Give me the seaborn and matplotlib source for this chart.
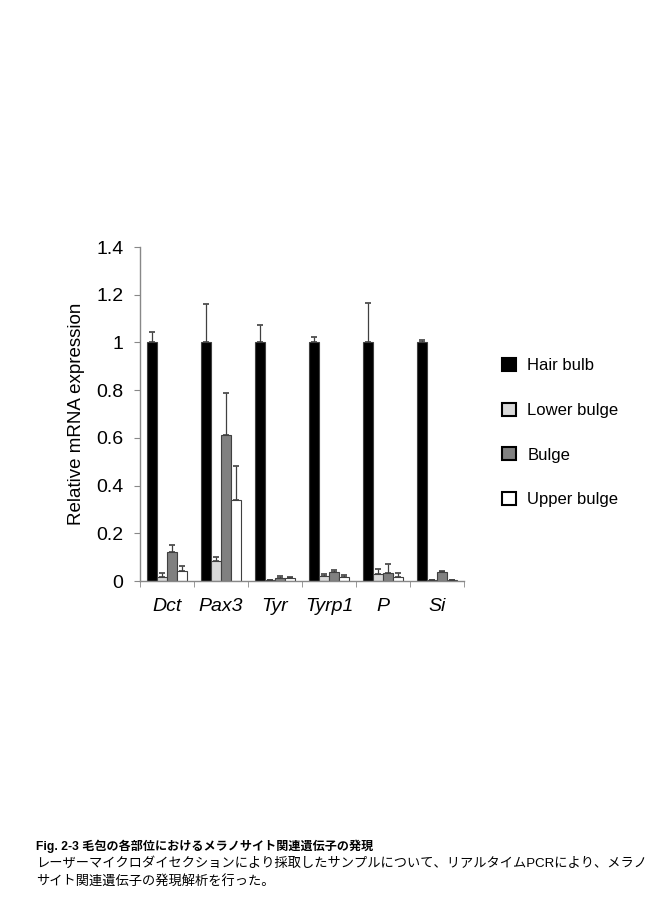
import matplotlib.pyplot as plt
import numpy as np
import pandas as pd
import seaborn as sns
from matplotlib.patches import Patch

# genes and sampled regions of the hair follicle
genes = ['Dct', 'Pax3', 'Tyr', 'Tyrp1', 'P', 'Si']
regions = ['Hair bulb', 'Lower bulge', 'Bulge', 'Upper bulge']

# relative expression (mean) per region, same order as genes
hair_bulb = [1.0, 1.0, 1.0, 1.0, 1.0, 1.0]
lower_bulge = [0.017, 0.084, 0.005, 0.022, 0.028, 0.003]
bulge = [0.122, 0.613, 0.012, 0.036, 0.034, 0.039]
upper_bulge = [0.040, 0.341, 0.011, 0.017, 0.017, 0.005]

# upper error (SD)
hair_bulb_err = [0.044, 0.161, 0.075, 0.023, 0.166, 0.009]
lower_bulge_err = [0.015, 0.015, 0.0, 0.009, 0.022, 0.0]
bulge_err = [0.031, 0.174, 0.009, 0.009, 0.037, 0.004]
upper_bulge_err = [0.023, 0.140, 0.004, 0.008, 0.015, 0.0]

colors = ['#000000', '#d9d9d9', '#808080', '#ffffff']

means = [hair_bulb, lower_bulge, bulge, upper_bulge]
errs = [hair_bulb_err, lower_bulge_err, bulge_err, upper_bulge_err]
rows = []
for r, m, e in zip(regions, means, errs):
    for g, v, s in zip(genes, m, e):
        rows.append({'gene': g, 'region': r, 'value': v, 'err': s})
df = pd.DataFrame(rows)

sns.set_style('white')
plt.rcParams['font.family'] = ['Liberation Sans', 'Noto Sans CJK JP', 'DejaVu Sans']
plt.rcParams['text.color'] = 'black'
plt.rcParams['xtick.color'] = 'black'
plt.rcParams['ytick.color'] = 'black'
plt.rcParams['axes.labelcolor'] = 'black'

fig = plt.figure(figsize=(6.62, 9.17), dpi=100)
ax = fig.add_axes([0.2115, 0.3664, 0.4894, 0.3642])

sns.barplot(data=df, x='gene', y='value', hue='region', order=genes, hue_order=regions,
            palette=colors, width=0.74, gap=0, errorbar=None, legend=False,
            edgecolor='#404040', linewidth=0.8, saturation=1, ax=ax)

# one-sided error bars on top of each bar
for cont, r in zip(ax.containers, regions):
    sub = df[df['region'] == r].set_index('gene').loc[genes]
    xs = [p.get_x() + p.get_width() / 2 for p in cont.patches]
    yerr = np.array(sub['err'])
    ax.errorbar(xs, sub['value'], yerr=[np.zeros_like(yerr), yerr], fmt='none',
                ecolor='#404040', elinewidth=0.9, capsize=2.2, capthick=1.2, zorder=3)

ax.set_ylim(0, 1.4)
ax.set_xlim(-0.5, len(genes) - 0.5)
ax.set_yticks([0, 0.2, 0.4, 0.6, 0.8, 1.0, 1.2, 1.4])
ax.set_yticklabels(['0', '0.2', '0.4', '0.6', '0.8', '1', '1.2', '1.4'], fontsize=14)
ax.set_xticks(range(len(genes)))
ax.set_xticklabels(genes, fontsize=14, style='italic')
ax.set_xticks(np.arange(-0.5, len(genes)), minor=True)
ax.tick_params(axis='x', which='major', length=0, pad=12)
ax.tick_params(axis='x', which='minor', length=4, color='#888888', direction='out', bottom=True)
ax.tick_params(axis='y', length=4, color='#888888', direction='out', left=True, pad=8)
ax.set_xlabel('')
ax.set_ylabel('Relative mRNA expression', fontsize=13.5, labelpad=8)
for s in ['top', 'right']:
    ax.spines[s].set_visible(False)
for s in ['left', 'bottom']:
    ax.spines[s].set_color('#888888')
    ax.spines[s].set_linewidth(1)

handles = [Patch(facecolor=c, edgecolor='black', linewidth=1.5) for c in colors]
fig.legend(handles, regions, loc='upper left', bbox_to_anchor=(0.736, 0.626),
           frameon=False, fontsize=12, handlelength=0.85, handleheight=0.85,
           handletextpad=0.65, labelspacing=1.75)

fig.text(0.054, 0.0735, 'Fig. 2-3 毛包の各部位におけるメラノサイト関連遺伝子の発現',
         fontsize=8.7, fontweight='bold')
fig.text(0.054, 0.0545, 'レーザーマイクロダイセクションにより採取したサンプルについて、リアルタイムPCRにより、メラノ',
         fontsize=9.5)
fig.text(0.054, 0.0350, 'サイト関連遺伝子の発現解析を行った。', fontsize=9.5)

fig.savefig('out.png', dpi=100)
